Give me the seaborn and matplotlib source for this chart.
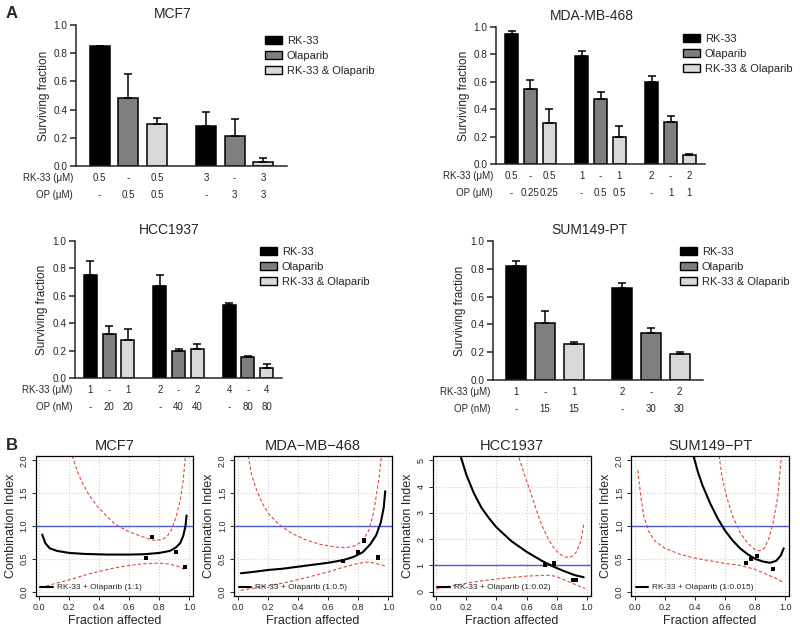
import matplotlib
matplotlib.use("Agg")
import matplotlib.pyplot as plt
from matplotlib.patches import Patch
from matplotlib.lines import Line2D
import numpy as np
import pandas as pd
import seaborn as sns

sns.set_style("ticks")
plt.rcParams['font.family'] = ['Liberation Sans', 'DejaVu Sans']

# ---- Panel A: surviving fraction (mean, upper SD) ----
treatments = ['RK-33', 'Olaparib', 'RK-33 & Olaparib']
bar_colors = ['#000000', '#7f7f7f', '#d9d9d9']

mcf7_sf = [0.85, 0.485, 0.295, 0.285, 0.21, 0.025]
mcf7_err = [0.004, 0.17, 0.045, 0.10, 0.12, 0.03]
mcf7_rk = ['0.5', '-', '0.5', '3', '-', '3']
mcf7_op = ['-', '0.5', '0.5', '-', '3', '3']

mda_sf = [0.95, 0.545, 0.30, 0.79, 0.475, 0.20, 0.60, 0.31, 0.065]
mda_err = [0.02, 0.065, 0.10, 0.035, 0.05, 0.08, 0.045, 0.04, 0.005]
mda_rk = ['0.5', '-', '0.5', '1', '-', '1', '2', '-', '2']
mda_op = ['-', '0.25', '0.25', '-', '0.5', '0.5', '-', '1', '1']

hcc_sf = [0.755, 0.32, 0.28, 0.675, 0.20, 0.215, 0.535, 0.15, 0.07]
hcc_err = [0.10, 0.06, 0.075, 0.075, 0.01, 0.03, 0.015, 0.008, 0.03]
hcc_rk = ['1', '-', '1', '2', '-', '2', '4', '-', '4']
hcc_op = ['-', '20', '20', '-', '40', '40', '-', '80', '80']

sum_sf = [0.82, 0.41, 0.26, 0.66, 0.335, 0.19]
sum_err = [0.035, 0.085, 0.015, 0.04, 0.04, 0.008]
sum_rk = ['1', '-', '1', '2', '-', '2']
sum_op = ['-', '15', '15', '-', '30', '30']

# ---- Panel B: combination index curves (fa, CI) ----
mcf7_fit = [(0.02, 0.87), (0.04, 0.74), (0.07, 0.66), (0.12, 0.62), (0.2, 0.59), (0.3, 0.575),
            (0.45, 0.565), (0.6, 0.565), (0.7, 0.57), (0.8, 0.59), (0.87, 0.62), (0.91, 0.67),
            (0.94, 0.74), (0.96, 0.85), (0.975, 1.0), (0.982, 1.16)]
mcf7_up = [(0.22, 2.07), (0.25, 1.86), (0.28, 1.69), (0.33, 1.48), (0.39, 1.29), (0.45, 1.15),
           (0.5, 1.04), (0.55, 0.97), (0.6, 0.91), (0.66, 0.86), (0.72, 0.81), (0.77, 0.78),
           (0.81, 0.79), (0.85, 0.83), (0.88, 0.94), (0.91, 1.12), (0.94, 1.39), (0.96, 1.7),
           (0.975, 2.07)]
mcf7_lo = [(0.01, 0.06), (0.1, 0.12), (0.2, 0.18), (0.3, 0.25), (0.4, 0.31), (0.5, 0.36),
           (0.6, 0.40), (0.7, 0.425), (0.8, 0.435), (0.87, 0.42), (0.93, 0.38), (0.98, 0.33)]
mcf7_pts = [(0.71, 0.51), (0.75, 0.83), (0.91, 0.61), (0.97, 0.38)]

mda_fit = [(0.02, 0.28), (0.1, 0.30), (0.2, 0.33), (0.3, 0.35), (0.4, 0.38), (0.5, 0.41),
           (0.6, 0.44), (0.7, 0.48), (0.77, 0.53), (0.83, 0.60), (0.88, 0.72), (0.92, 0.86),
           (0.95, 1.05), (0.97, 1.28), (0.98, 1.53)]
mda_up = [(0.07, 2.07), (0.09, 1.8), (0.12, 1.58), (0.16, 1.36), (0.2, 1.2), (0.27, 1.03),
          (0.35, 0.90), (0.45, 0.79), (0.55, 0.72), (0.65, 0.68), (0.72, 0.67), (0.78, 0.70),
          (0.83, 0.77), (0.87, 0.93), (0.9, 1.18), (0.92, 1.45), (0.94, 1.75), (0.955, 2.07)]
mda_lo = [(0.02, 0.02), (0.15, 0.07), (0.3, 0.13), (0.45, 0.21), (0.6, 0.30), (0.7, 0.37),
          (0.78, 0.42), (0.85, 0.45), (0.9, 0.44), (0.95, 0.41), (0.98, 0.39)]
mda_pts = [(0.70, 0.47), (0.80, 0.61), (0.84, 0.78), (0.93, 0.52)]

hcc_fit = [(0.165, 5.1), (0.2, 4.45), (0.25, 3.75), (0.3, 3.2), (0.35, 2.8), (0.4, 2.45),
           (0.5, 1.92), (0.6, 1.52), (0.7, 1.18), (0.78, 0.95), (0.85, 0.78), (0.92, 0.63),
           (0.98, 0.55)]
hcc_up = [(0.55, 5.1), (0.58, 4.55), (0.62, 3.9), (0.66, 3.2), (0.70, 2.55), (0.74, 2.05),
          (0.78, 1.68), (0.82, 1.43), (0.86, 1.31), (0.9, 1.33), (0.93, 1.5), (0.96, 1.9),
          (0.98, 2.55)]
hcc_lo = [(0.0, 0.1), (0.1, 0.22), (0.2, 0.32), (0.3, 0.41), (0.4, 0.48), (0.5, 0.54),
          (0.6, 0.59), (0.7, 0.62), (0.76, 0.62), (0.8, 0.57), (0.85, 0.45), (0.9, 0.33),
          (0.95, 0.21), (0.99, 0.12)]
hcc_pts = [(0.72, 1.0), (0.78, 1.07), (0.91, 0.45), (0.925, 0.45)]

sum_fit = [(0.39, 2.07), (0.42, 1.82), (0.45, 1.62), (0.5, 1.35), (0.55, 1.12), (0.6, 0.93),
           (0.65, 0.78), (0.7, 0.66), (0.75, 0.57), (0.8, 0.50), (0.85, 0.46), (0.9, 0.44),
           (0.94, 0.47), (0.97, 0.55), (0.99, 0.66)]
sum_up = [(0.56, 2.07), (0.58, 1.75), (0.61, 1.45), (0.65, 1.15), (0.7, 0.9), (0.75, 0.74),
          (0.8, 0.64), (0.83, 0.62), (0.86, 0.66), (0.89, 0.8), (0.92, 1.05), (0.95, 1.45),
          (0.975, 2.07)]
sum_lo = [(0.02, 1.85), (0.04, 1.45), (0.06, 1.15), (0.09, 0.93), (0.13, 0.78), (0.2, 0.66),
          (0.3, 0.57), (0.4, 0.51), (0.5, 0.47), (0.6, 0.43), (0.7, 0.40), (0.8, 0.34),
          (0.88, 0.26), (0.94, 0.2), (0.99, 0.14)]
sum_pts = [(0.74, 0.44), (0.77, 0.50), (0.81, 0.54), (0.92, 0.35)]

W, H = 800, 629
fig = plt.figure(figsize=(W / 100, H / 100), dpi=100)


def px_axes(left, right, top, bottom):
    return fig.add_axes([left / W, 1 - bottom / H, (right - left) / W, (bottom - top) / H])


def draw_bars(ax, title, values, errors, rk, op, op_unit, legend_xy, width_px):
    n = len(values)
    pos = [i + (i // 3) * 0.7 for i in range(n)]
    df = pd.DataFrame({'pos': pos, 'value': values,
                       'treatment': [treatments[i % 3] for i in range(n)]})
    sns.barplot(data=df, x='pos', y='value', hue='treatment', hue_order=treatments,
                palette=bar_colors, native_scale=True, width=0.7, saturation=1,
                edgecolor='black', linewidth=1.1, errorbar=None, legend=False, ax=ax)
    ax.errorbar(pos, values, yerr=[np.zeros(n), errors], fmt='none', ecolor='black',
                elinewidth=1.1, capsize=3, capthick=1.1, zorder=3)
    ax.set_xlim(pos[0] - 0.82, pos[-1] + 0.82)
    ax.set_ylim(0, 1.0)
    ax.set_yticks(np.arange(0, 1.01, 0.2))
    ax.set_yticklabels([f'{t:.1f}' for t in np.arange(0, 1.01, 0.2)], fontsize=7.2)
    ax.set_xticks([])
    ax.set_xlabel('')
    ax.set_ylabel('Surviving fraction', fontsize=8.5, labelpad=3)
    ax.set_title(title, fontsize=10, pad=5, x=0.5 - 9 / width_px)
    ax.tick_params(axis='y', length=4, width=1.1, pad=2)
    sns.despine(ax=ax)
    for s in ('left', 'bottom'):
        ax.spines[s].set_linewidth(1.1)
    for i in range(n):
        ax.annotate(rk[i], xy=(pos[i], 0), xycoords=('data', 'axes fraction'),
                    xytext=(0, -8.6), textcoords='offset points',
                    ha='center', va='center', fontsize=7)
        ax.annotate(op[i], xy=(pos[i], 0), xycoords=('data', 'axes fraction'),
                    xytext=(0, -21), textcoords='offset points',
                    ha='center', va='center', fontsize=7)
    ax.annotate('RK-33 (μM)', xy=(0, 0), xycoords='axes fraction', xytext=(-2, -8.6),
                textcoords='offset points', ha='right', va='center', fontsize=7)
    ax.annotate(f'OP ({op_unit})', xy=(0, 0), xycoords='axes fraction', xytext=(-2, -21),
                textcoords='offset points', ha='right', va='center', fontsize=7)
    handles = [Patch(facecolor=c, edgecolor='black', linewidth=1) for c in bar_colors]
    ax.legend(handles, treatments, loc='upper left',
              bbox_to_anchor=(legend_xy[0] / W, 1 - legend_xy[1] / H),
              bbox_transform=fig.transFigure, frameon=False, fontsize=8,
              handlelength=1.5, handleheight=0.7, handletextpad=0.45,
              labelspacing=0.45, borderpad=0, borderaxespad=0)


def draw_ci(ax, title, fit, upper, lower, pts, ratio, ymax, ystep):
    pad = 0.033 * ymax
    for curve in (upper, lower):
        d = pd.DataFrame(curve, columns=['fa', 'ci'])
        sns.lineplot(data=d, x='fa', y='ci', sort=False, color='#e3463f', lw=0.8,
                     linestyle=(0, (3, 2)), ax=ax)
    ax.axhline(1.0, color='#4c5cd4', lw=1.0, zorder=1)
    d = pd.DataFrame(fit, columns=['fa', 'ci'])
    sns.lineplot(data=d, x='fa', y='ci', sort=False, color='black', lw=1.5, ax=ax)
    p = pd.DataFrame(pts, columns=['fa', 'ci'])
    sns.scatterplot(data=p, x='fa', y='ci', marker='s', s=9, color='black',
                    edgecolor='none', ax=ax, zorder=5)
    ax.set_xlim(-0.025, 1.025)
    ax.set_ylim(-pad, ymax + pad)
    xt = np.arange(0, 1.01, 0.2)
    ax.set_xticks(xt)
    ax.set_xticklabels([f'{t:.1f}' for t in xt], fontsize=6.5)
    yt = np.arange(0, ymax + 0.001, ystep)
    ax.set_yticks(yt)
    if ystep < 1:
        ax.set_yticklabels([f'{t:.1f}' for t in yt], fontsize=6.5, rotation=90, va='center')
    else:
        ax.set_yticklabels([f'{t:.0f}' for t in yt], fontsize=6.5, rotation=90, va='center')
    ax.grid(True, color='#cfcfcf', linestyle=':', lw=0.8)
    ax.set_axisbelow(True)
    ax.tick_params(length=3, width=0.7, pad=2)
    for s in ax.spines.values():
        s.set_linewidth(0.9)
        s.set_color('black')
    ax.set_xlabel('Fraction affected', fontsize=9, labelpad=2)
    ax.set_ylabel('Combination Index', fontsize=9, labelpad=2)
    ax.set_title(title, fontsize=10.5, pad=4)
    ax.legend(handles=[Line2D([0], [0], color='black', lw=1.5)],
              labels=[f'RK-33 + Olaparib ({ratio})'], loc='lower left', frameon=False,
              fontsize=6, handlelength=1.5, handletextpad=0.5, borderaxespad=0.15)


# Panel A
ax1 = px_axes(76, 287, 25, 166)
draw_bars(ax1, 'MCF7', mcf7_sf, mcf7_err, mcf7_rk, mcf7_op, 'μM', (265, 36), 211)
ax2 = px_axes(496, 705, 27, 164)
draw_bars(ax2, 'MDA-MB-468', mda_sf, mda_err, mda_rk, mda_op, 'μM', (683, 34), 209)
ax3 = px_axes(75, 282, 241, 378)
draw_bars(ax3, 'HCC1937', hcc_sf, hcc_err, hcc_rk, hcc_op, 'nM', (260, 247), 207)
ax4 = px_axes(493, 703, 241, 380)
draw_bars(ax4, 'SUM149-PT', sum_sf, sum_err, sum_rk, sum_op, 'nM', (680, 247), 210)

# Panel B
bx1 = px_axes(35.5, 193, 456, 596)
draw_ci(bx1, 'MCF7', mcf7_fit, mcf7_up, mcf7_lo, mcf7_pts, '1:1', 2.0, 0.5)
bx2 = px_axes(234, 392, 456, 596)
draw_ci(bx2, 'MDA\u2212MB\u2212468', mda_fit, mda_up, mda_lo, mda_pts, '1:0.5', 2.0, 0.5)
bx3 = px_axes(432.5, 590.5, 456, 596)
draw_ci(bx3, 'HCC1937', hcc_fit, hcc_up, hcc_lo, hcc_pts, '1:0.02', 5.0, 1)
bx4 = px_axes(631, 789, 456, 596)
draw_ci(bx4, 'SUM149\u2212PT', sum_fit, sum_up, sum_lo, sum_pts, '1:0.015', 2.0, 0.5)

fig.text(12 / W, 1 - 13 / H, 'A', fontsize=12, fontweight='bold', ha='center', va='center')
fig.text(12 / W, 1 - 445 / H, 'B', fontsize=12, fontweight='bold', ha='center', va='center')

fig.savefig('out.png', dpi=100)
